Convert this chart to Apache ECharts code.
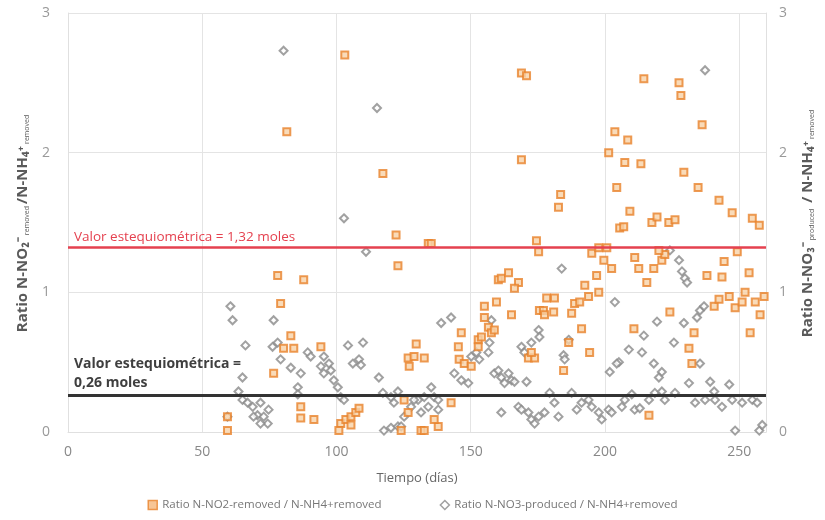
<!DOCTYPE html>
<html>
<head>
<meta charset="utf-8">
<script src="https://cdn.jsdelivr.net/npm/echarts@6/dist/echarts.min.js"></script>
<style>html,body{margin:0;padding:0;background:#fff}#c{width:825px;height:520px}</style>
</head>
<body>
<div id="c"></div>
<script>
const xTicks = [0, 50, 100, 150, 200, 250];
const yTicks = [0, 1, 2, 3];
const seriesNames = ['Ratio N-NO2-removed / N-NH4+removed', 'Ratio N-NO3-produced / N-NH4+removed'];
const refValues = [1.32, 0.26];
const refLabels = ['Valor estequiométrica = 1,32 moles', 'Valor estequiométrica =\n0,26 moles'];

// [day, ratio]
const no2Points = [[59.4,0.01],[59.4,0.11],[78.1,1.12],[87.8,1.09],[79.2,0.92],[83.0,0.69],[80.3,0.60],[84.1,0.60],[76.6,0.42],[86.7,0.18],[86.7,0.10],[91.6,0.09],[81.5,2.15],[103.1,2.70],[117.3,1.85],[122.2,1.41],[122.9,1.19],[134.2,1.35],[135.3,1.35],[94.2,0.61],[101.6,0.06],[103.5,0.09],[105.4,0.11],[107.2,0.14],[108.4,0.17],[105.4,0.05],[100.9,0.01],[129.7,0.63],[126.7,0.53],[128.9,0.54],[132.7,0.53],[127.1,0.47],[142.7,0.21],[131.5,0.01],[132.7,0.01],[137.9,0.04],[136.4,0.09],[125.2,0.23],[126.7,0.14],[124.1,0.01],[145.4,0.61],[146.5,0.71],[145.7,0.52],[147.6,0.49],[150.2,0.47],[152.8,0.66],[154.0,0.68],[155.1,0.90],[156.6,0.75],[157.7,0.71],[158.8,0.73],[159.6,0.93],[165.2,0.84],[155.1,0.82],[152.8,0.61],[175.6,0.87],[174.5,1.37],[175.3,1.29],[160.3,1.09],[161.4,1.10],[164.1,1.14],[167.8,1.07],[166.3,1.03],[182.7,1.61],[209.3,1.58],[205.5,1.46],[207.0,1.47],[217.5,1.50],[219.4,1.54],[223.8,1.50],[226.1,1.52],[242.5,1.66],[247.4,1.57],[254.9,1.53],[257.5,1.48],[195.1,1.28],[197.7,1.32],[200.7,1.32],[199.6,1.23],[202.5,1.17],[211.1,1.25],[212.6,1.17],[215.6,1.07],[218.2,1.17],[221.2,1.23],[222.3,1.27],[220.1,1.30],[238.0,1.12],[243.6,1.11],[244.4,1.22],[249.3,1.29],[253.7,1.14],[192.5,1.05],[196.9,1.12],[197.7,1.00],[193.9,0.97],[178.3,0.96],[181.2,0.96],[177.1,0.87],[177.5,0.84],[180.9,0.86],[187.6,0.85],[188.7,0.92],[190.6,0.93],[191.3,0.74],[194.3,0.57],[184.6,0.44],[186.5,0.64],[171.5,0.53],[173.8,0.53],[172.6,0.57],[224.2,0.86],[210.8,0.74],[233.2,0.71],[231.3,0.60],[232.4,0.49],[240.7,0.90],[242.5,0.95],[246.3,0.97],[248.5,0.89],[251.1,0.93],[252.2,1.00],[256.0,0.93],[259.3,0.97],[257.8,0.84],[254.1,0.71],[216.4,0.12],[168.9,2.57],[170.8,2.55],[214.5,2.53],[227.6,2.50],[228.3,2.41],[236.2,2.20],[203.7,2.15],[208.5,2.09],[201.4,2.00],[168.9,1.95],[207.4,1.93],[213.4,1.92],[229.4,1.86],[204.4,1.75],[234.7,1.75],[183.5,1.70]];

const no3Points = [[80.3,2.73],[115.1,2.32],[102.8,1.53],[111.0,1.29],[237.3,2.59],[60.5,0.90],[61.3,0.80],[76.6,0.80],[66.1,0.62],[76.2,0.61],[78.1,0.64],[65.0,0.39],[79.2,0.52],[83.0,0.46],[86.7,0.42],[85.6,0.32],[85.6,0.27],[63.5,0.29],[65.0,0.23],[66.9,0.21],[68.8,0.18],[71.7,0.21],[74.7,0.16],[70.6,0.12],[69.1,0.11],[72.9,0.11],[74.4,0.06],[71.7,0.06],[59.4,0.11],[104.3,0.62],[109.9,0.64],[106.1,0.49],[108.4,0.52],[109.1,0.48],[89.3,0.57],[90.4,0.54],[95.3,0.54],[97.2,0.49],[94.2,0.47],[97.9,0.44],[95.3,0.42],[99.0,0.37],[100.5,0.32],[101.6,0.25],[102.8,0.23],[115.8,0.39],[117.3,0.28],[120.3,0.25],[122.9,0.29],[121.4,0.21],[117.7,0.01],[120.3,0.03],[122.9,0.04],[125.2,0.11],[127.8,0.18],[130.4,0.23],[132.7,0.25],[135.3,0.32],[136.4,0.25],[134.2,0.18],[137.9,0.16],[137.9,0.23],[124.1,0.04],[128.9,0.23],[131.5,0.14],[139.0,0.78],[142.7,0.82],[143.9,0.42],[146.5,0.37],[149.1,0.35],[150.2,0.54],[152.1,0.57],[153.2,0.52],[156.6,0.57],[157.7,0.80],[157.0,0.64],[158.8,0.42],[160.3,0.44],[161.4,0.39],[164.1,0.42],[165.2,0.37],[162.6,0.35],[166.3,0.36],[170.8,0.36],[168.9,0.61],[170.0,0.57],[172.6,0.64],[175.3,0.73],[175.6,0.68],[161.4,0.14],[167.8,0.18],[168.9,0.16],[171.5,0.14],[172.6,0.09],[173.8,0.06],[175.3,0.11],[183.9,1.17],[224.2,1.30],[227.6,1.23],[228.7,1.15],[229.8,1.10],[230.6,1.07],[203.7,0.93],[186.5,0.66],[184.6,0.55],[185.0,0.52],[219.4,0.79],[214.5,0.69],[213.8,0.57],[208.9,0.59],[205.2,0.50],[204.4,0.49],[201.8,0.43],[218.2,0.49],[221.2,0.43],[220.1,0.39],[225.7,0.64],[229.4,0.78],[234.3,0.82],[235.4,0.87],[236.9,0.90],[235.4,0.49],[231.3,0.35],[239.2,0.36],[246.3,0.34],[240.7,0.29],[177.5,0.14],[179.4,0.28],[181.2,0.21],[182.7,0.11],[187.6,0.28],[189.5,0.16],[191.3,0.21],[193.9,0.23],[195.1,0.18],[197.7,0.14],[198.8,0.09],[201.4,0.16],[202.5,0.14],[206.3,0.18],[207.4,0.23],[210.0,0.27],[211.1,0.16],[213.0,0.17],[216.4,0.23],[218.6,0.28],[221.2,0.29],[222.3,0.23],[226.1,0.28],[233.6,0.21],[237.3,0.23],[241.0,0.23],[243.6,0.18],[247.4,0.23],[251.1,0.21],[254.9,0.23],[256.7,0.21],[248.5,0.01],[257.5,0.01],[258.6,0.05]];

const FONT = 'Open Sans';
const chart = echarts.init(document.getElementById('c'), null, {renderer: 'canvas'});
const gridLine = {show: true, lineStyle: {color: '#e4e4e4', width: 1}};
const axisTitleRich = {
  a: {fontFamily: FONT, fontSize: 15, fontWeight: 'bold', color: '#5a5a5a'},
  s: {fontFamily: FONT, fontSize: 7, color: '#5a5a5a', verticalAlign: 'bottom', padding: [8, 2, 0, 2]}
};
chart.setOption({
  animation: false,
  textStyle: {fontFamily: FONT},
  grid: {left: 68, right: 59, top: 13, bottom: 88, containLabel: false},
  legend: {
    bottom: 4, left: 'center', itemGap: 58, itemWidth: 9, itemHeight: 9,
    textStyle: {fontFamily: FONT, fontSize: 11.5, color: '#777'},
    data: [
      {name: seriesNames[0], icon: 'rect', itemStyle: {color: '#f5b67a', borderColor: '#e8822a', borderWidth: 1.5}},
      {name: seriesNames[1], icon: 'diamond', itemStyle: {color: '#fff', borderColor: '#888', borderWidth: 1.5}}
    ]
  },
  xAxis: {
    type: 'value', min: 0, max: 260, interval: 50,
    name: 'Tiempo (días)', nameLocation: 'middle', nameGap: 40,
    nameTextStyle: {fontFamily: FONT, fontSize: 13, color: '#666'},
    axisLine: {show: true, lineStyle: {color: '#e0e0e0'}},
    axisTick: {show: false},
    axisLabel: {fontSize: 14, color: '#888', margin: 13, showMaxLabel: false,
      formatter: v => xTicks.includes(v) ? String(v) : ''},
    splitLine: gridLine
  },
  yAxis: [
    {
      type: 'value', min: 0, max: 3, interval: 1, position: 'left',
      name: '{a|Ratio N-NO₂⁻}{s|removed}{a|/N-NH₄⁺}{s|removed}',
      nameLocation: 'middle', nameGap: 38, nameRotate: 90,
      nameTextStyle: {rich: axisTitleRich},
      axisLine: {show: true, lineStyle: {color: '#e0e0e0'}},
      axisTick: {show: false},
      axisLabel: {fontSize: 14, color: '#999', margin: 18, formatter: v => yTicks.includes(v) ? String(v) : ''},
      splitLine: gridLine
    },
    {
      type: 'value', min: 0, max: 3, interval: 1, position: 'right',
      name: '{a|Ratio N-NO₃⁻}{s|produced}{a| / N-NH₄⁺}{s|removed}',
      nameLocation: 'middle', nameGap: 34, nameRotate: 90,
      nameTextStyle: {rich: axisTitleRich},
      axisLine: {show: true, lineStyle: {color: '#e0e0e0'}},
      axisTick: {show: false},
      axisLabel: {fontSize: 14, color: '#999', margin: 13, formatter: v => yTicks.includes(v) ? String(v) : ''},
      splitLine: {show: false}
    }
  ],
  series: [
    {
      name: seriesNames[1], type: 'scatter', data: no3Points, symbol: 'diamond', symbolSize: 8,
      itemStyle: {color: '#ffffff', borderColor: '#8a8a8a', borderWidth: 2},
      z: 2
    },
    {
      name: seriesNames[0], type: 'scatter', data: no2Points, symbol: 'rect', symbolSize: 7,
      itemStyle: {color: '#f8d2a8', borderColor: '#e8822a', borderWidth: 2},
      z: 3,
      markLine: {
        silent: true, symbol: 'none', animation: false,
        data: [
          {yAxis: refValues[0], lineStyle: {color: '#e5414f', width: 2.5, type: 'solid'},
           label: {show: true, position: 'insideStartTop', formatter: refLabels[0], color: '#e5414f',
             fontFamily: FONT, fontSize: 13.5, distance: [6, 3]}},
          {yAxis: refValues[1], lineStyle: {color: '#333333', width: 3, type: 'solid'},
           label: {show: true, position: 'insideStartTop', formatter: refLabels[1], color: '#3f3f3f',
             fontFamily: FONT, fontSize: 14, fontWeight: 'bold', lineHeight: 19, align: 'left', distance: [6, 3]}}
        ]
      }
    }
  ]
});
</script>
</body>
</html>
